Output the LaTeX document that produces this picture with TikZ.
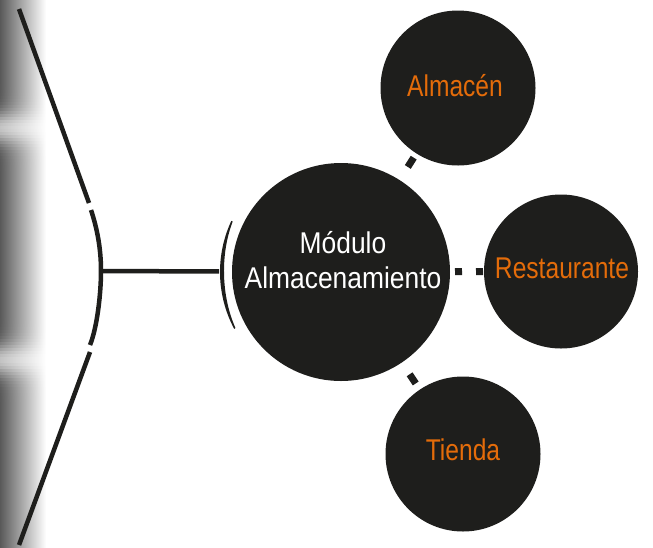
\documentclass[tikz,border=0pt]{standalone}
\usepackage{fontspec}
\setmainfont{Liberation Sans}
\newfontfamily\ctrfont{Liberation Sans}[FakeStretch=0.88]
\newfontfamily\satfont{Liberation Sans}[FakeStretch=0.82]
\definecolor{discc}{HTML}{1E1E1C}
\definecolor{lblc}{HTML}{E46C0A}
\begin{document}
\begin{tikzpicture}[x=1pt,y=-1pt,
  disc/.style={circle,fill=discc,draw=none,inner sep=0pt,outer sep=0pt,minimum size=#1},
  ctext/.style={inner sep=0pt,text=white,align=center,font=\ctrfont\fontsize{30}{35.6}\selectfont},
  stext/.style={inner sep=0pt,text=lblc,font=\satfont\fontsize{30}{36}\selectfont},
  conn/.style={draw=discc,line width=7pt,line cap=butt},
  brk/.style={draw=discc,line width=4.5pt,line cap=butt}]
\useasboundingbox (0,0) rectangle (653,547);
% left grey shadow band
\foreach \yy in {0,3,...,546}{
  \pgfmathsetmacro{\da}{min(9,((\yy+1.5-128)/16)*((\yy+1.5-128)/16))}
  \pgfmathsetmacro{\db}{min(9,((\yy+1.5-360)/16)*((\yy+1.5-360)/16))}
  \pgfmathsetmacro{\dd}{72*(1-0.64*exp(-\da)-0.64*exp(-\db))}
  \shade[left color=black!\dd, right color=white] (-5,\yy) rectangle (46,\yy+3.6);
}
% nodes
\node[disc=218pt] (c) at (341,272) {};
\node[disc=155pt] (alm) at (458,88) {};
\node[disc=154pt] (res) at (561,271.5) {};
\node[disc=155pt] (tie) at (463,454) {};
\node[ctext] (ct) at (343,260) {Módulo\\Almacenamiento};
\node[stext] (at) at (455,85.5) {Almacén};
\node[stext] (rt) at (562,268) {Restaurante};
\node[stext] (tt) at (463,450) {Tienda};
% dashed connectors
\draw[conn,dash pattern=on 11pt off 40pt,dash phase=35.5pt] (c) -- (alm);
\draw[conn,dash pattern=on 7pt off 14pt,dash phase=16pt] (c) -- (res);
\draw[conn,dash pattern=on 11pt off 40pt,dash phase=36.8pt] (c) -- (tie);
% bracket
\coordinate (j) at (101,271);
\draw[brk] (19,9) -- (89,203);
\draw[brk] (91,210) .. controls (97,228) and (101,248) .. (j) .. controls (101,294) and (97,328) .. (90,345);
\draw[brk] (90,352) -- (19,545);
\draw[brk] (j) -- (c) [shorten >=13pt];
% crescent arc
\fill[discc] plot[domain=152:205,samples=40] ({341+121*cos(\x)},{272+121*sin(\x)})
  -- plot[domain=205:152,samples=40] ({341+(121-1.5-2.5*sin((\x-152)/53*180))*cos(\x)},{272+(121-1.5-2.5*sin((\x-152)/53*180))*sin(\x)}) -- cycle;
\end{tikzpicture}
\end{document}
